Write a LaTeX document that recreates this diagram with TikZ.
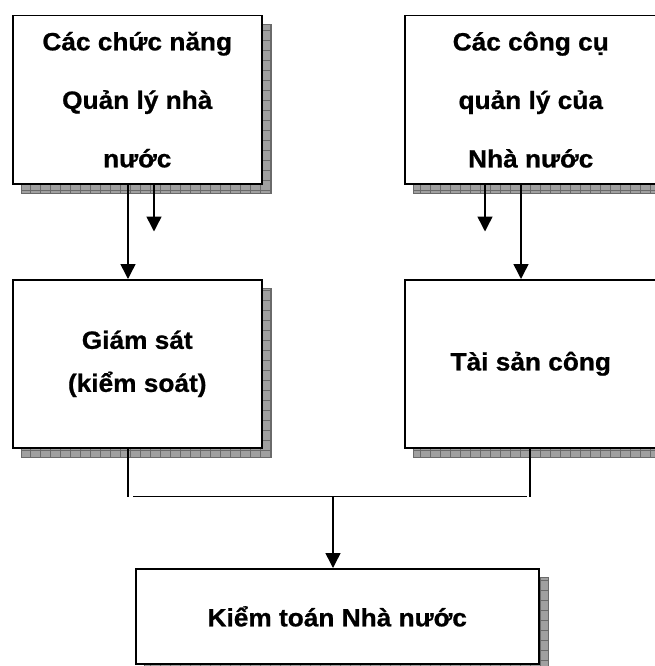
\documentclass[tikz,border=0pt]{standalone}
\usepackage{fontspec}
\setmainfont{Liberation Sans}[BoldFeatures={FakeBold=0.8, FakeStretch=1.05}]
\usetikzlibrary{arrows.meta,calc,backgrounds}

\definecolor{shadowfill}{HTML}{A0A0A0}
\definecolor{shadowline}{HTML}{6A6A6A}

\tikzset{
  box/.style={draw=black, line width=1.5pt, fill=white, anchor=north west,
    minimum width=249pt, minimum height=168pt, align=center, inner sep=0pt,
    font=\bfseries\fontsize{25}{58.5}\selectfont},
  edgebox/.style={box, minimum width=252pt},
  arr/.style={line width=1.5pt, -{Triangle[width=15pt,length=15pt]}},
  link/.style={line width=1.5pt},
}

\begin{document}
\begin{tikzpicture}[x=1pt,y=1pt]
  \useasboundingbox (0,0) rectangle (654,-666);

  % boxes (the right-hand column runs up to the right edge of the page)
  \node[box] (chucnang) at (12,-15) {Các chức năng\\Quản lý nhà\\nước};
  \node[edgebox] (congcu) at (404,-15) {Các công cụ\\quản lý của\\Nhà nước};
  \node[box, font=\bfseries\fontsize{25}{43}\selectfont] (giamsat) at (12,-279) {Giám sát\\(kiểm soát)};
  \node[edgebox] (taisan) at (404,-279) {Tài sản công};
  \node[box, minimum width=403pt, minimum height=95pt, text depth=-4pt] (kiemtoan) at (135,-568) {Kiểm toán Nhà nước};

  % tiled drop shadows behind every box
  \begin{scope}[on background layer]
    \foreach \n in {chucnang,congcu,giamsat,taisan,kiemtoan} {
      \fill[shadowfill, draw=shadowline, line width=0.6pt]
        ([shift={(9,-9)}]\n.south west) rectangle ([shift={(9,-9)}]\n.north east);
      \draw[shadowline, line width=0.6pt]
        ([shift={(9,-9)}]\n.south west) grid[step=10] ([shift={(9,-9)}]\n.north east);
    }
  \end{scope}

  % arrows between the upper and middle rows
  \draw[arr] ($(chucnang.south west)+(116,0)$) -- ($(giamsat.north west)+(116,0)$);
  \draw[arr] ($(chucnang.south west)+(142,0)$) -- ++(0,-47);
  \draw[arr] ($(congcu.south west)+(81,0)$) -- ++(0,-47);
  \draw[arr] ($(congcu.south west)+(117,0)$) -- ($(taisan.north west)+(117,0)$);

  % joining bracket down to the audit box
  \coordinate (join) at ($(giamsat.south west)+(321,-48)$);
  \draw[link] ($(giamsat.south west)+(116,0)$) -- ++(0,-48);
  \draw[link] ($(giamsat.south west)+(121,-48)$) -- ($(taisan.south west)+(123,-48)$);
  \draw[link] ($(taisan.south west)+(126,0)$) -- ++(0,-48);
  \draw[arr] (join) -- (join |- kiemtoan.north);
\end{tikzpicture}
\end{document}
